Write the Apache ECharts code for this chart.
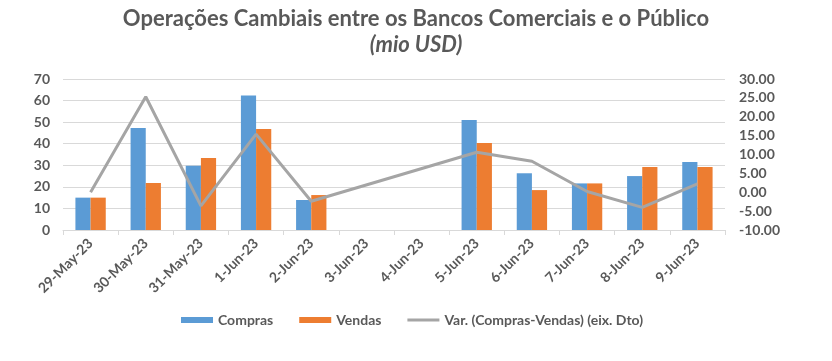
<!DOCTYPE html>
<html><head><meta charset="utf-8">
<script src="https://cdn.jsdelivr.net/npm/echarts@6/dist/echarts.min.js"></script>
<style>html,body{margin:0;padding:0;background:#fff}#c{width:832px;height:361px}</style>
</head><body><div id="c"></div>
<script>
const categories = ['29-May-23','30-May-23','31-May-23','1-Jun-23','2-Jun-23','3-Jun-23','4-Jun-23','5-Jun-23','6-Jun-23','7-Jun-23','8-Jun-23','9-Jun-23'];
const compras = [15.0, 47.3, 29.8, 62.3, 13.9, null, null, 51.0, 26.3, 21.6, 25.0, 31.5];
const vendas  = [15.0, 21.8, 33.4, 46.8, 16.2, null, null, 40.3, 18.5, 21.6, 29.2, 29.2];
const variacao = [0.0, 25.3, -3.6, 15.4, -2.4, null, null, 10.6, 8.2, 0.2, -4.0, 2.2];

const txt = '#595959';
const font = 'Lato';
const chart = echarts.init(document.getElementById('c'), null, {renderer:'canvas'});
chart.setOption({
  animation:false,
  backgroundColor:'#fff',
  title:{
    text:'Operações Cambiais entre os Bancos Comerciais e o Público',
    subtext:'(mio USD)',
    left:'center', top:3, itemGap:4,
    textStyle:{fontFamily:font,fontSize:22,fontWeight:'bold',color:txt},
    subtextStyle:{fontFamily:font,fontSize:22,fontStyle:'italic',fontWeight:'bold',color:txt}
  },
  legend:{
    bottom:29, left:176, itemGap:26, itemWidth:32, itemHeight:6,
    textStyle:{fontFamily:font,fontSize:14,fontWeight:'bold',color:txt},
    data:[{name:'Compras',icon:'rect'},{name:'Vendas',icon:'rect'},
          {name:'Var. (Compras-Vendas) (eix. Dto)',icon:'path://M0,0 L32,0 L32,3 L0,3 Z'}]
  },
  grid:{left:63,right:107,top:79,bottom:131},
  xAxis:{
    type:'category', data:categories, boundaryGap:true,
    axisLine:{lineStyle:{color:'#D9D9D9'}},
    axisTick:{show:true,alignWithLabel:false,length:5,lineStyle:{color:'#D9D9D9'}},
    axisLabel:{rotate:45,interval:0,margin:11,fontFamily:font,fontSize:14,fontWeight:'bold',color:txt}
  },
  yAxis:[{
    type:'value', min:0, max:70, interval:10,
    axisLine:{show:false}, axisTick:{show:false},
    splitLine:{lineStyle:{color:'#D9D9D9'}},
    axisLabel:{margin:13,fontFamily:font,fontSize:14,fontWeight:'bold',color:txt}
  },{
    type:'value', min:-10, max:30, interval:5,
    axisLine:{show:false}, axisTick:{show:false}, splitLine:{show:false},
    axisLabel:{margin:14,fontFamily:font,fontSize:14,fontWeight:'bold',color:txt,formatter:v=>v.toFixed(2)}
  }],
  series:[
    {name:'Compras',type:'bar',data:compras,barGap:'0%',barCategoryGap:'45%',itemStyle:{color:'#5B9BD5'}},
    {name:'Vendas',type:'bar',data:vendas,barGap:'0%',barCategoryGap:'45%',itemStyle:{color:'#ED7D31'}},
    {name:'Var. (Compras-Vendas) (eix. Dto)',type:'line',yAxisIndex:1,data:variacao,connectNulls:true,
     symbol:'none',lineStyle:{color:'#A5A5A5',width:3},itemStyle:{color:'#A5A5A5'}}
  ]
});
</script></body></html>
